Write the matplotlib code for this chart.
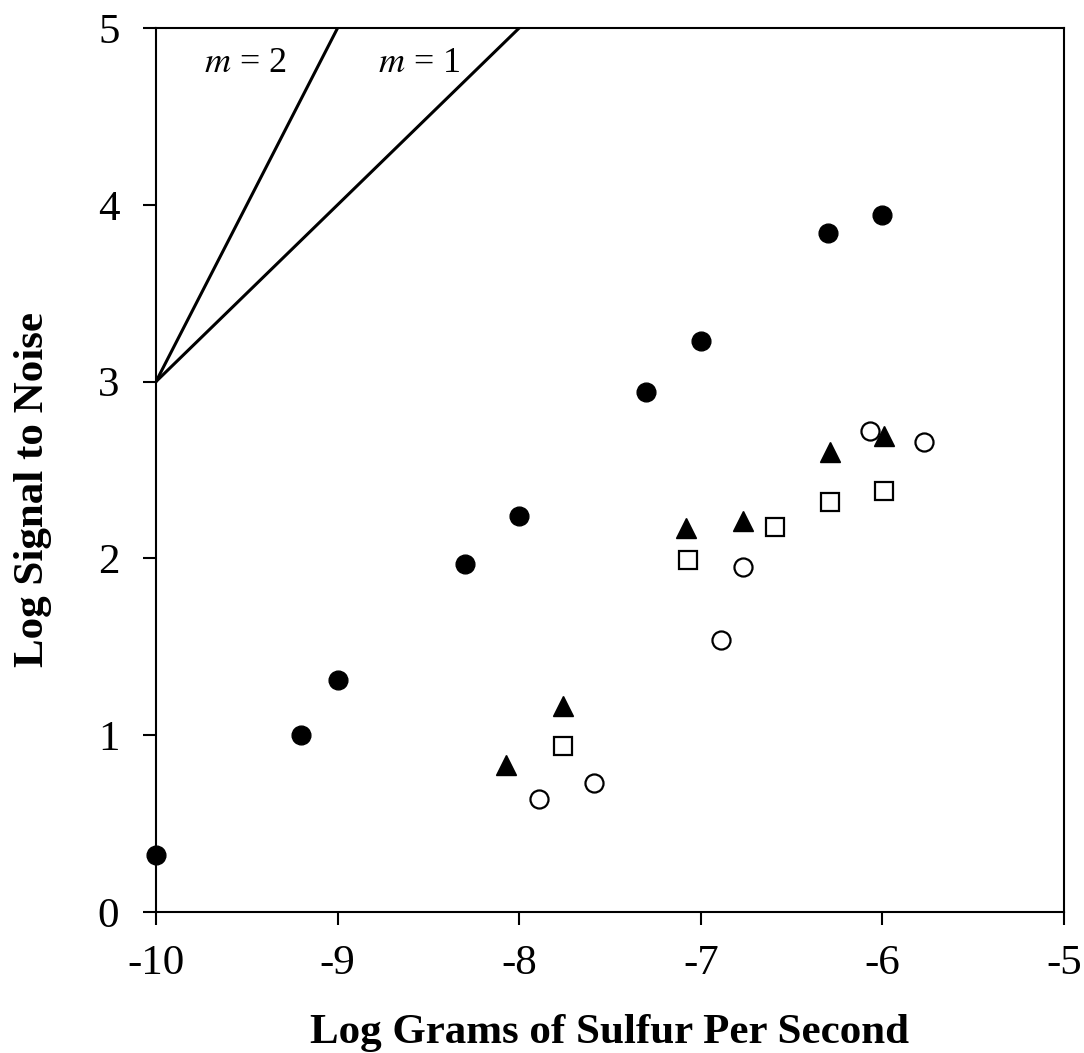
import matplotlib.pyplot as plt
import numpy as np

plt.rcParams['font.family'] = ['Liberation Serif', 'DejaVu Serif']
plt.rcParams['mathtext.fontset'] = 'stix'
plt.rcParams['axes.unicode_minus'] = False

# filled circles
fc_x = [-10.0, -9.2, -9.0, -8.3, -8.0, -7.3, -7.0, -6.3, -6.0]
fc_y = [0.32, 1.0, 1.31, 1.97, 2.24, 2.94, 3.23, 3.84, 3.94]

# filled triangles
tri_x = [-8.07, -7.76, -7.08, -6.77, -6.29, -5.99]
tri_y = [0.83, 1.165, 2.17, 2.21, 2.60, 2.69]

# open squares
sq_x = [-7.76, -7.07, -6.59, -6.29, -5.99]
sq_y = [0.94, 1.99, 2.18, 2.32, 2.38]

# open circles
oc_x = [-7.89, -7.59, -6.89, -6.77, -6.07, -5.77]
oc_y = [0.64, 0.73, 1.54, 1.95, 2.72, 2.66]

# reference slopes through (-10, 3)
slopes = [2, 1]
x0, y0 = -10.0, 3.0

fig = plt.figure(figsize=(10.84, 10.53), dpi=100)
ax = fig.add_axes([156 / 1084, 1 - 912 / 1053, 908 / 1084, 884 / 1053])

for m in slopes:
    xs = np.array([x0, x0 + (5 - y0) / m])
    ax.plot(xs, y0 + m * (xs - x0), color='black', lw=2.2)

ax.plot(fc_x, fc_y, 'o', ms=13.5, mfc='black', mec='black', clip_on=False, zorder=5)
ax.plot(tri_x, tri_y, '^', ms=14, mfc='black', mec='black', clip_on=False, zorder=5)
ax.plot(sq_x, sq_y, 's', ms=12.5, mfc='white', mec='black', mew=1.6, clip_on=False, zorder=4)
ax.plot(oc_x, oc_y, 'o', ms=13, mfc='none', mec='black', mew=1.6, clip_on=False, zorder=4)

ax.text(-9.51, 4.80, '$m$ = 2', fontsize=26, ha='center', va='center')
ax.text(-8.55, 4.80, '$m$ = 1', fontsize=26, ha='center', va='center')

ax.set_xlim(-10, -5)
ax.set_ylim(0, 5)
ax.set_xticks(np.arange(-10, -4, 1))
ax.set_yticks(np.arange(0, 6, 1))
ax.tick_params(direction='out', length=9.4, width=1.5, labelsize=31)
ax.tick_params(axis='y', pad=17)
ax.tick_params(axis='x', pad=14)
for s in ax.spines.values():
    s.set_linewidth(1.5)

ax.set_xlabel('Log Grams of Sulfur Per Second', fontsize=31, fontweight='bold', labelpad=22)
ax.set_ylabel('Log Signal to Noise', fontsize=31, fontweight='bold')
ax.yaxis.set_label_coords(-0.114, 0.478)

fig.savefig('out.png', dpi=100, facecolor='white')
